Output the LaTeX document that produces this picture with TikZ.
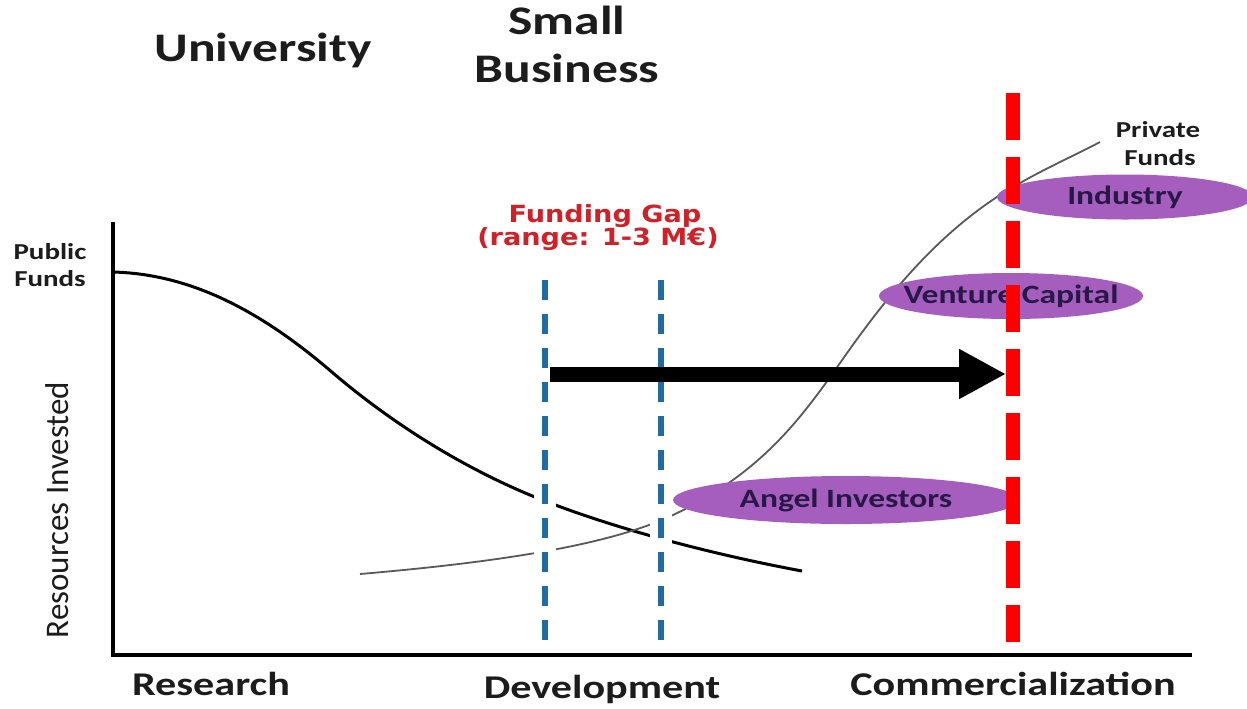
\documentclass[tikz,border=0pt]{standalone}
\usepackage{fontspec}
\setmainfont[FakeStretch=1.27]{Carlito}
\newfontfamily\plainfont{Carlito}
\newfontfamily\gapfont[FakeStretch=1.15]{DejaVu Sans}
\usetikzlibrary{arrows.meta,shapes.geometric,positioning}
\definecolor{gapred}{RGB}{208,32,40}
\definecolor{gapblue}{RGB}{32,108,160}
\definecolor{funderfill}{RGB}{165,94,190}
\definecolor{fundertext}{RGB}{40,24,72}
\definecolor{darktext}{RGB}{28,28,28}
\tikzset{stage label/.style={font=\fontsize{20.3}{24}\selectfont\bfseries,text=darktext,inner sep=0pt,anchor=base},
         phase label/.style={font=\fontsize{16.6}{20}\selectfont\bfseries,text=darktext,inner sep=0pt,anchor=base},
         fund label/.style={font=\fontsize{11.4}{14}\selectfont\bfseries,text=darktext,inner sep=0pt,anchor=base},
         gap label/.style={font=\gapfont\bfseries\fontsize{11.8}{14}\selectfont,text=gapred,inner sep=0pt,anchor=base},
         funder/.style={ellipse,fill=funderfill,draw=none,inner sep=0pt},
         funder text/.style={font=\fontsize{13.2}{16}\selectfont\bfseries,text=fundertext,inner sep=0pt},
         gap halo/.style={white,line width=11pt},
         gap line/.style={gapblue,line width=2.6pt,dash pattern=on 10pt off 7pt},
         market line/.style={red,line width=7pt,dash pattern=on 23.5pt off 8.5pt},
         public curve/.style={black,line width=1.5pt},
         private curve/.style={black!65,line width=0.9pt},
         axis line/.style={black,line width=1.7pt}
}

\begin{document}
\begin{tikzpicture}[x=0.5pt,y=-0.5pt,
>={Triangle[length=23.5pt,width=23.5pt]}]
\fill[white] (0,0) rectangle (1247,708);
\useasboundingbox (0,0) rectangle (1247,708);

\coordinate (ytop) at (113,222);
\coordinate (origin) at (113,655);
\coordinate (xend) at (1192,655);
\coordinate (gapA top) at (545,280);
\coordinate (gapA bottom) at (545,655);
\coordinate (gapB top) at (661,280);
\coordinate (gapB bottom) at (661,655);
\coordinate (market top) at (1013,93);
\coordinate (market bottom) at (1013,642);
\coordinate (push start) at (550,374);
\coordinate (push end) at (1006,374);

\draw[public curve] (113,272) .. controls (190,274) and (260,310) .. (333,373)
  .. controls (400,430) and (470,470) .. (530,495)
  .. controls (600,524) and (700,552) .. (802,571);
\draw[private curve] (360,574) .. controls (500,562) and (610,545) .. (673,515)
  .. controls (760,474) and (800,420) .. (840,363)
  .. controls (880,306) and (930,240) .. (1000,195)
  .. controls (1040,170) and (1070,158) .. (1100,142);

\foreach \g in {A,B}
  \draw[gap halo] (gap\g\space top) -- (gap\g\space bottom);
\foreach \g in {A,B}
  \draw[gap line] (gap\g\space top) -- (gap\g\space bottom);

\draw[axis line] (ytop) -- (origin) -- (xend);

\node[funder,minimum width=128pt,minimum height=22.5pt,label={[funder text]center:Industry}] (industry) at (1125,197) {};
\node[funder,minimum width=132pt,minimum height=23pt,label={[funder text]center:Venture Capital}] (venture) at (1011,296) {};
\node[funder,minimum width=173pt,minimum height=24pt,label={[funder text]center:Angel Investors}] (angel) at (846,500) {};

\draw[market line] (market top) -- (market bottom);
\draw[->,line width=7.5pt] (push start) -- (push end);

\node[stage label] (university) at (263,61) {University};
\node[stage label] (small) at (567,34) {Small};
\node[stage label] (business) at (567,82) {Business};
\node[fund label] (public) at (50,259) {Public};
\node[fund label] (public funds) at (50,286) {Funds};
\node[fund label] (private) at (1158,137) {Private};
\node[fund label] (private funds) at (1160,165) {Funds};
\node[gap label] (gap) at (605,222) {Funding Gap};
\node[gap label] (range) at (598,245) {(range: 1-3 M€)};
\node[phase label] (research) at (211,695) {Research};
\node[phase label] (development) at (602,698) {Development};
\node[phase label] (commercial) at (1013,695) {Commercialization};
\node[rotate=90,font=\plainfont\fontsize{16.5}{20}\selectfont,text=darktext,inner sep=0pt] (resources) at (57,510) {Resources Invested};
\end{tikzpicture}
\end{document}
